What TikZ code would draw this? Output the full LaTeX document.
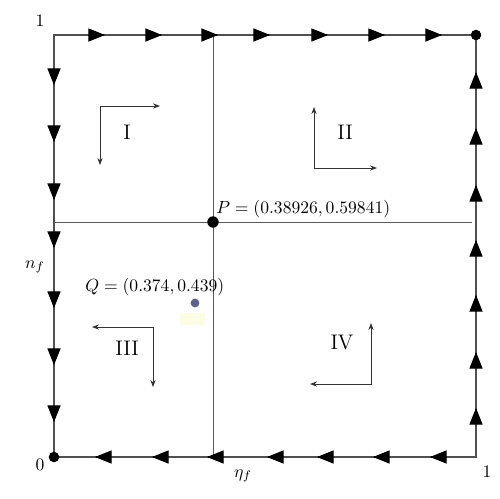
\documentclass[tikz,border=0pt]{standalone}
\usepackage{amsmath,amssymb}
\usepackage{xcolor}
\definecolor{linegray}{RGB}{80, 80, 80}
\definecolor{qdot}{RGB}{96, 98, 142}
\definecolor{hilite}{RGB}{253, 252, 228}
\usepackage{tikz}
\usetikzlibrary{arrows.meta}

\tikzset{
  boundary/.style={line width=0.6pt, draw=linegray},
  divider/.style={line width=0.5pt, draw=black!65},
  flowtip/.style={-{Triangle[length=9.5pt,width=7.5pt]}, line width=0.6pt, draw=black},
  dirline/.style={{Stealth[length=4pt,width=3pt]}-{Stealth[length=4pt,width=3pt]}, line width=0.5pt, draw=black!80},
  dot/.style={circle, fill=black, inner sep=0pt, minimum size=#1},
  quadlabel/.style={font=\large, inner sep=0pt},
  ptlabel/.style={inner sep=0pt, anchor=west},
}

\begin{document}
\begin{tikzpicture}[x=0.02cm, y=-0.02cm]
    \useasboundingbox (0,0) rectangle (500,498);

    % Corners of the unit square
    \coordinate (A) at (54,35);
    \coordinate (B) at (476,35);
    \coordinate (C) at (476,457);
    \coordinate (D) at (54,457);

    % Square and dividing lines through P
    \draw[boundary] (D) -- (A) -- (B) -- (C) -- (D);
    \coordinate (Pl) at (54,222);
    \coordinate (Pr) at (472,222);
    \coordinate (Pt) at (213,35);
    \coordinate (Pb) at (213,457);
    \draw[divider] (Pl) -- (Pr);
    \draw[divider] (Pt) -- (Pb);

    % Flow arrows along the edges
    \foreach \x in {105,162,218,270,328,385,442}
        \draw[flowtip] (\x-1,35) -- (\x,35);
    \foreach \y in {85,142,200,248,308,365,422}
        \draw[flowtip] (54,\y-1) -- (54,\y);
    \foreach \x in {95,152,207,267,317,373,430}
        \draw[flowtip] (\x+1,457) -- (\x,457);
    \foreach \y in {72,128,185,240,295,352,408}
        \draw[flowtip] (476,\y+1) -- (476,\y);

    % Fixed points
    \node[dot=6.5pt] (P) at (213,222) {};
    \node[dot=6pt] (O) at (D) {};
    \node[dot=6pt] (E) at (B) {};

    % Corner and axis labels
    \node (one1) at (40,21) {1};
    \node (zero) at (40,465) {0};
    \node (one2) at (487,472) {1};
    \node (xlab) at (243,476) {$\eta_f$};
    \node (ylab) at (35,267) {$n_f$};

    % Points P and Q
    \node[ptlabel] (Plab) at (216,209) {$P = (0.38926,0.59841)$};
    \fill[hilite] (180,313) rectangle (205,325);
    \node[dot=5pt, fill=qdot] (Q) at (195,303) {};
    \node[ptlabel] (Qlab) at (85,287) {$Q = (0.374,0.439)$};

    % Quadrant labels
    \node[quadlabel] (q1) at (127,132) {I};
    \node[quadlabel] (q2) at (345,132) {II};
    \node[quadlabel] (q3) at (127,348) {III};
    \node[quadlabel] (q4) at (342,343) {IV};

    % Direction glyphs
    \draw[dirline] (100,165) -- (100,106) -- (160,106);
    \draw[dirline] (314,107) -- (314,168) -- (377,168);
    \draw[dirline] (92,327) -- (153,327) -- (153,387);
    \draw[dirline] (371,323) -- (371,384) -- (310,384);
\end{tikzpicture}
\end{document}
